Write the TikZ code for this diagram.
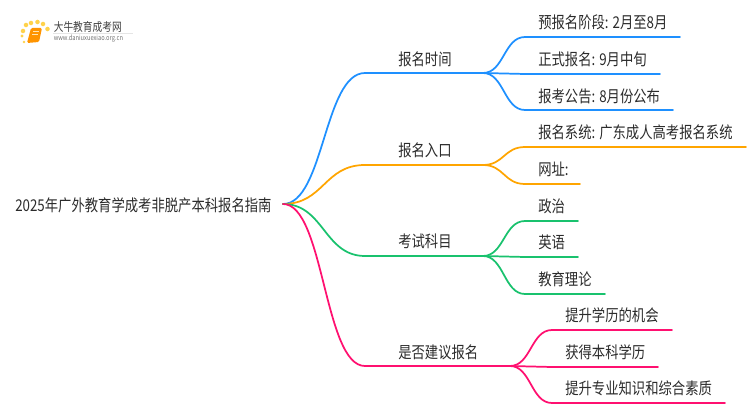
\documentclass[tikz,border=0pt]{standalone}
\usepackage{fontspec}
\setmainfont{Noto Sans CJK SC}
\definecolor{cblue}{HTML}{1E90FF}
\definecolor{corange}{HTML}{FFA500}
\definecolor{cgreen}{HTML}{19C26E}
\definecolor{cpink}{HTML}{FF1070}
\definecolor{ctext}{HTML}{2B2B2B}
\definecolor{cdot}{HTML}{FFD24A}
\newcommand{\tall}[1]{\scalebox{1}[1.22]{#1}}
\tikzset{
  lbl/.style={anchor=west,inner sep=0pt,text=ctext,font=\fontsize{10pt}{12pt}\selectfont},
  conn/.style={line width=1.3pt,line cap=round},
  dot/.style={circle,fill=cdot,draw=none,inner sep=0pt,minimum size=#1},
  dot/.default=3.4pt,
}
\newcommand{\sbranch}[3]{\draw[conn,#1] (#2) .. controls ($(#2)!0.5!(#3|-#2)$) and ($(#2)!0.5!(#3|-#2)+(#3)-(#3|-#2)$) .. (#3);}
\usetikzlibrary{calc}
\begin{document}
\begin{tikzpicture}[x=0.75pt,y=-0.75pt]
\useasboundingbox (0,0) rectangle (750,410);
\fill[white] (0,0) rectangle (750,410);
% logo
\fill[corange!90!red,rounded corners=1pt] (31,28) -- (42,28) -- (39,42) -- (27,43) -- cycle;
\draw[white!70!corange,line width=0.5pt] (33,31) -- (39,31) (32,34) -- (38,34);
\node[dot] (d1) at (23,31) {};
\node[dot=2.4pt] (d2) at (22,36) {};
\node[dot] (d3) at (26,25) {};
\node[dot] (d4) at (31,23) {};
\node[dot] (d5) at (37.5,22) {};
\node[dot] (d6) at (43,24) {};
\node[dot] (d7) at (47.5,29) {};
\node[dot=2pt] (d8) at (24,42) {};
\node[lbl,font=\fontsize{7.3pt}{9pt}\selectfont,text=black!75] (logot) at (53.5,27) {\tall{大牛教育成考网}};
\node[lbl,font=\fontsize{4.3pt}{5pt}\selectfont,text=black!55] (logou) at (53.5,38.5) {\tall{www.daniuxuexiao.org.cn}};
\draw[black!10,line width=0.4pt] (53,33) -- (133,33);
% nodes
\node[lbl] (root) at (15,205) {\tall{2025年广外教育学成考非脱产本科报名指南}};
\node[lbl] (a) at (398,59) {\tall{报名时间}};
\node[lbl] (b) at (398,150) {\tall{报名入口}};
\node[lbl] (c) at (398,241) {\tall{考试科目}};
\node[lbl] (d) at (398,352) {\tall{是否建议报名}};
\node[lbl] (a1) at (538,22) {\tall{预报名阶段: 2月至8月}};
\node[lbl] (a2) at (538,59) {\tall{正式报名: 9月中旬}};
\node[lbl] (a3) at (538,96) {\tall{报考公告: 8月份公布}};
\node[lbl] (b1) at (538,132) {\tall{报名系统: 广东成人高考报名系统}};
\node[lbl] (b2) at (538,169) {\tall{网址:}};
\node[lbl] (c1) at (538,206) {\tall{政治}};
\node[lbl] (c2) at (538,242) {\tall{英语}};
\node[lbl] (c3) at (538,279) {\tall{教育理论}};
\node[lbl] (d1t) at (565,315) {\tall{提升学历的机会}};
\node[lbl] (d2t) at (565,352) {\tall{获得本科学历}};
\node[lbl] (d3t) at (565,388) {\tall{提升专业知识和综合素质}};
% joints
\coordinate (r) at (283,204);
\coordinate (as) at (365,73); \coordinate (ae) at (483,73);
\coordinate (bs) at (365,165); \coordinate (be) at (483,165);
\coordinate (cs) at (365,256); \coordinate (ce) at (483,256);
\coordinate (ds) at (365,366); \coordinate (de) at (510,366);
\coordinate (a1s) at (525,37); \coordinate (a1e) at (680,37);
\coordinate (a2s) at (525,74); \coordinate (a2e) at (660,74);
\coordinate (a3s) at (525,110); \coordinate (a3e) at (673,110);
\coordinate (b1s) at (525,147); \coordinate (b1e) at (746,147);
\coordinate (b2s) at (525,184); \coordinate (b2e) at (580,184);
\coordinate (c1s) at (525,221); \coordinate (c1e) at (578,221);
\coordinate (c2s) at (525,257); \coordinate (c2e) at (578,257);
\coordinate (c3s) at (525,294); \coordinate (c3e) at (605,294);
\coordinate (d1s) at (552,330); \coordinate (d1e) at (672,330);
\coordinate (d2s) at (552,367); \coordinate (d2e) at (658,367);
\coordinate (d3s) at (552,403); \coordinate (d3e) at (725,403);
% connectors
\sbranch{cblue}{r}{as} \draw[conn,cblue] (as) -- (ae);
\sbranch{corange}{r}{bs} \draw[conn,corange] (bs) -- (be);
\sbranch{cgreen}{r}{cs} \draw[conn,cgreen] (cs) -- (ce);
\sbranch{cpink}{r}{ds} \draw[conn,cpink] (ds) -- (de);
\sbranch{cblue}{ae}{a1s} \draw[conn,cblue] (a1s) -- (a1e);
\sbranch{cblue}{ae}{a2s} \draw[conn,cblue] (a2s) -- (a2e);
\sbranch{cblue}{ae}{a3s} \draw[conn,cblue] (a3s) -- (a3e);
\sbranch{corange}{be}{b1s} \draw[conn,corange] (b1s) -- (b1e);
\sbranch{corange}{be}{b2s} \draw[conn,corange] (b2s) -- (b2e);
\sbranch{cgreen}{ce}{c1s} \draw[conn,cgreen] (c1s) -- (c1e);
\sbranch{cgreen}{ce}{c2s} \draw[conn,cgreen] (c2s) -- (c2e);
\sbranch{cgreen}{ce}{c3s} \draw[conn,cgreen] (c3s) -- (c3e);
\sbranch{cpink}{de}{d1s} \draw[conn,cpink] (d1s) -- (d1e);
\sbranch{cpink}{de}{d2s} \draw[conn,cpink] (d2s) -- (d2e);
\sbranch{cpink}{de}{d3s} \draw[conn,cpink] (d3s) -- (d3e);
\end{tikzpicture}
\end{document}
